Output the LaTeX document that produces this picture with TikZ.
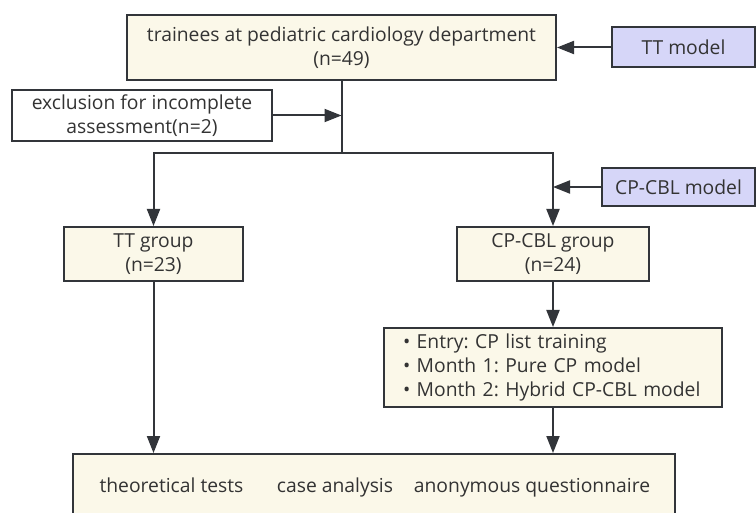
\documentclass[tikz,border=0pt]{standalone}
\usepackage{fontspec}
\setmainfont{Open Sans}
\usetikzlibrary{arrows.meta}
\definecolor{boxfill}{RGB}{251,248,233}
\definecolor{modelfill}{RGB}{214,214,248}
\definecolor{edge}{RGB}{50,53,58}
\frenchspacing
\tikzset{
  box/.style={draw=edge, line width=2pt, fill=boxfill, align=center, inner sep=0pt,
    text=black!80, font=\fontsize{19.3}{24}\selectfont},
  modelbox/.style={box, fill=modelfill},
  label/.style={inner sep=0pt, anchor=base, text=black!80, font=\fontsize{19.3}{24}\selectfont},
  link/.style={draw=edge, line width=2pt},
  flow/.style={link, -{Triangle[length=17pt,width=13pt]}}
}

\begin{document}
\begin{tikzpicture}[x=1pt,y=-1pt]
\useasboundingbox (0,0) rectangle (756,513);
\node[box, minimum width=429pt, minimum height=65pt] (trainees) at (341.5,47.5) {trainees at pediatric cardiology department\\(n=49)};
\node[modelbox, minimum width=143pt, minimum height=40pt] (ttmodel) at (683.5,47.5) {TT model};
\node[box, fill=white, minimum width=260pt, minimum height=51pt] (excl) at (142,115.5) {exclusion for incomplete\\assessment(n=2)};
\coordinate (fork) at (341.5,153);
\node[modelbox, minimum width=153pt, minimum height=38pt] (cpmodel) at (678.5,187) {CP-CBL model};
\node[box, minimum width=179pt, minimum height=54pt] (ttgroup) at (153.5,254) {TT group\\(n=23)};
\node[box, minimum width=192pt, minimum height=54pt] (cpgroup) at (553,254) {CP-CBL group\\(n=24)};
\node[box, align=left, inner xsep=19pt, text width=300pt, minimum height=79pt] (steps) at (553,367.5) {• Entry: CP list training\\• Month 1: Pure CP model\\• Month 2: Hybrid CP-CBL model};
\node[box, minimum width=602pt, minimum height=70pt] (result) at (374,489) {};
\node[label] (tests) at (171.5,493) {theoretical tests};
\node[label] (cases) at (335,493) {case analysis};
\node[label] (survey) at (532,493) {anonymous questionnaire};

\draw[flow] (ttmodel) -- (trainees);
\draw[flow] (excl) -- (excl -| trainees);
\draw[link] (trainees) -- (fork);
\draw[flow] (fork) -| (ttgroup);
\draw[flow] (fork) -| (cpgroup);
\draw[flow] (cpmodel) -- (cpmodel -| cpgroup);
\draw[flow] (cpgroup) -- (steps);
\draw[flow] (ttgroup) -- (ttgroup |- result.north);
\draw[flow] (steps) -- (steps |- result.north);
\end{tikzpicture}
\end{document}
